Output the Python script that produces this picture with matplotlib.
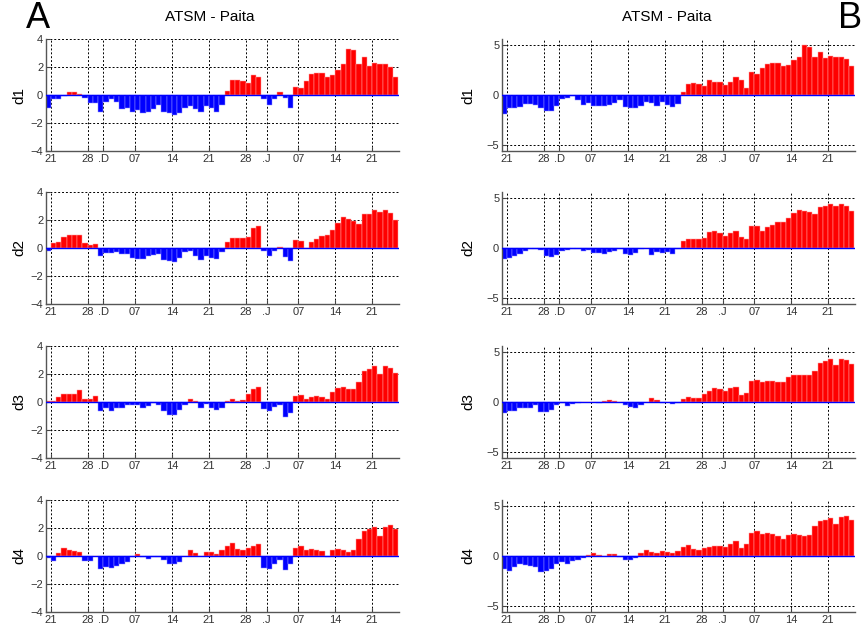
import numpy as np
import pandas as pd
import matplotlib
import matplotlib.pyplot as plt

matplotlib.use('Agg')
plt.rcParams['font.family'] = ['Liberation Sans', 'DejaVu Sans']

# daily dates, 20 Nov -> 25 Jan
dates = pd.date_range('2015-11-20', periods=67, freq='D')

tick_dates = ['2015-11-21', '2015-11-28', '2015-12-01', '2015-12-07', '2015-12-14',
              '2015-12-21', '2015-12-28', '2016-01-01', '2016-01-07', '2016-01-14',
              '2016-01-21']
tick_labels = ['21', '28', '.D', '07', '14', '21', '28', '.J', '07', '14', '21']

# panel A
a_d1 = [-0.9, -0.3, -0.3, -0.1, 0.2, 0.25, 0.1, -0.2, -0.6, -0.6,
        -1.2, -0.5, -0.3, -0.5, -1.0, -0.9, -1.2, -1.1, -1.25, -1.2,
        -1.0, -0.7, -1.2, -1.3, -1.4, -1.3, -0.9, -0.8, -1.0, -1.2,
        -0.8, -0.9, -1.2, -0.7, 0.3, 1.1, 1.1, 1.0, 0.85, 1.4,
        1.3, -0.3, -0.7, -0.3, 0.25, -0.2, -0.9, 0.6, 0.5, 1.0,
        1.5, 1.6, 1.6, 1.3, 1.4, 1.8, 2.2, 3.3, 3.2, 2.2,
        2.7, 2.1, 2.3, 2.25, 2.25, 2.0, 1.3]
a_d2 = [-0.2, 0.35, 0.4, 0.8, 0.95, 0.9, 0.9, 0.35, 0.25, 0.3,
        -0.6, -0.35, -0.35, -0.3, -0.45, -0.4, -0.7, -0.75, -0.8, -0.6,
        -0.5, -0.4, -0.85, -0.9, -1.0, -0.7, -0.3, -0.2, -0.55, -0.85,
        -0.55, -0.7, -0.8, -0.3, 0.45, 0.75, 0.7, 0.7, 0.8, 1.4,
        1.55, -0.2, -0.55, -0.2, 0.05, -0.65, -0.9, 0.55, 0.5, 0.0,
        0.45, 0.65, 0.85, 0.95, 1.3, 1.8, 2.2, 2.1, 1.9, 1.7,
        2.45, 2.45, 2.7, 2.55, 2.75, 2.5, 2.0]
a_d3 = [0.05, 0.1, 0.35, 0.6, 0.55, 0.55, 0.85, 0.25, 0.2, 0.4,
        -0.65, -0.45, -0.65, -0.45, -0.4, -0.2, -0.2, -0.2, -0.4, -0.3,
        -0.1, -0.2, -0.65, -0.9, -0.9, -0.6, -0.2, 0.2, 0.05, -0.4,
        -0.15, -0.4, -0.55, -0.4, 0.05, 0.25, 0.1, 0.15, 0.55, 0.9,
        1.1, -0.5, -0.65, -0.35, -0.2, -1.05, -0.8, 0.4, 0.5, 0.25,
        0.35, 0.4, 0.35, 0.25, 0.75, 1.0, 1.05, 0.95, 0.9, 1.4,
        2.2, 2.35, 2.55, 2.0, 2.55, 2.45, 2.1]
a_d4 = [-0.15, -0.35, 0.25, 0.55, 0.4, 0.35, 0.3, -0.35, -0.35, 0.0,
        -0.95, -0.75, -0.85, -0.7, -0.55, -0.45, -0.05, 0.15, -0.1, -0.2,
        -0.1, -0.05, -0.3, -0.55, -0.55, -0.45, 0.0, 0.4, 0.2, 0.0,
        0.3, 0.3, 0.15, 0.4, 0.75, 0.9, 0.5, 0.4, 0.6, 0.7,
        0.85, -0.85, -0.9, -0.6, -0.3, -1.0, -0.6, 0.55, 0.75, 0.45,
        0.5, 0.45, 0.35, -0.05, 0.4, 0.5, 0.4, 0.3, 0.4, 1.25,
        1.8, 1.9, 2.1, 1.4, 2.1, 2.25, 1.9]

# panel B
b_d1 = [-1.9, -1.3, -1.25, -1.2, -0.85, -0.85, -1.0, -1.3, -1.6, -1.6,
        -1.1, -0.4, -0.3, -0.1, -0.5, -0.95, -0.8, -1.1, -1.05, -1.1,
        -1.0, -0.8, -0.5, -1.2, -1.3, -1.3, -1.1, -0.7, -0.8, -1.1,
        -0.7, -0.95, -1.2, -0.9, 0.35, 1.1, 1.2, 1.1, 0.9, 1.5,
        1.35, 1.3, 1.0, 1.3, 1.8, 1.55, 0.7, 2.3, 2.1, 2.7,
        3.1, 3.2, 3.2, 2.9, 3.0, 3.5, 3.8, 5.0, 4.8, 3.8,
        4.3, 3.7, 3.9, 3.8, 3.8, 3.6, 2.9]
b_d2 = [-1.1, -1.0, -0.8, -0.6, -0.3, -0.1, -0.1, -0.15, -0.75, -0.85,
        -0.7, -0.3, -0.15, -0.1, -0.05, -0.25, -0.15, -0.5, -0.45, -0.55,
        -0.4, -0.25, -0.1, -0.6, -0.7, -0.5, -0.05, 0.0, -0.7, -0.35,
        -0.45, -0.35, -0.55, -0.05, 0.7, 0.95, 0.95, 0.9, 1.05, 1.6,
        1.7, 1.55, 1.2, 1.5, 1.75, 1.1, 0.9, 2.25, 2.2, 1.7,
        2.1, 2.3, 2.6, 2.65, 3.0, 3.55, 3.85, 3.75, 3.6, 3.4,
        4.1, 4.2, 4.45, 4.2, 4.45, 4.2, 3.7]
b_d3 = [-1.1, -0.9, -0.85, -0.6, -0.55, -0.6, -0.3, -0.95, -1.0, -0.75,
        -0.3, -0.1, -0.35, -0.2, -0.1, 0.05, 0.05, 0.05, -0.05, 0.1,
        0.2, 0.1, 0.0, -0.3, -0.5, -0.6, -0.3, 0.05, 0.45, 0.2,
        -0.05, 0.05, -0.15, -0.05, 0.35, 0.5, 0.45, 0.45, 0.85, 1.15,
        1.4, 1.3, 1.15, 1.4, 1.55, 0.75, 0.95, 2.15, 2.2, 2.0,
        2.15, 2.15, 2.05, 2.0, 2.5, 2.75, 2.75, 2.75, 2.7, 3.15,
        3.9, 4.1, 4.35, 3.75, 4.35, 4.2, 3.85]
b_d4 = [-1.3, -1.5, -1.05, -0.75, -0.9, -0.95, -1.05, -1.55, -1.5, -1.3,
        -0.75, -0.6, -0.75, -0.5, -0.35, -0.2, 0.15, 0.35, 0.1, 0.05,
        0.2, 0.25, -0.1, -0.4, -0.35, -0.15, 0.3, 0.6, 0.45, 0.3,
        0.5, 0.45, 0.35, 0.5, 0.95, 1.1, 0.75, 0.6, 0.85, 0.9,
        1.0, 1.05, 0.95, 1.25, 1.55, 0.85, 1.2, 2.35, 2.55, 2.2,
        2.3, 2.2, 2.05, 1.75, 2.15, 2.2, 2.1, 2.05, 2.1, 3.0,
        3.55, 3.65, 3.8, 3.25, 3.9, 4.0, 3.65]

panel_a = [a_d1, a_d2, a_d3, a_d4]
panel_b = [b_d1, b_d2, b_d3, b_d4]
row_names = ['d1', 'd2', 'd3', 'd4']

fig = plt.figure(figsize=(8.65, 6.26), dpi=100)

x = np.arange(len(dates))           # bar i covers one day
t0 = dates[0]
tick_pos = [(pd.Timestamp(t) - t0).days for t in tick_dates]

col_left = [46 / 865, 502 / 865]
ax_w = 353 / 865
ax_h = 112 / 626
bottoms_px = [151, 304, 458, 612]


def draw_panel(ax, vals, lim, yticks, name, pad):
    vals = np.array(vals)
    cols = np.where(vals >= 0, 'red', 'blue')
    edges = np.where(vals >= 0, '#ffa0a0', '#9090ff')
    ax.bar(x, vals, width=1.0, align='edge', color=cols, edgecolor=edges,
           linewidth=0.35, zorder=2)
    ax.axhline(0, color='blue', lw=1.0, zorder=3)
    ax.set_ylim(-lim, lim)
    ax.set_xlim(0.1, 67.1)
    ax.set_yticks(yticks)
    ax.set_xticks(tick_pos)
    ax.set_xticklabels(tick_labels)
    ax.grid(True, color='black', linestyle=(0, (2, 2)), linewidth=0.7, zorder=1)
    ax.set_axisbelow(True)
    for s in ['top', 'right']:
        ax.spines[s].set_visible(False)
    for s in ['left', 'bottom']:
        ax.spines[s].set_color('#555555')
        ax.spines[s].set_linewidth(1.0)
    ax.tick_params(direction='in', length=3, labelsize=8, colors='#444444',
                   labelcolor='#333333', pad=2)
    ax.set_ylabel(name, fontsize=11, labelpad=pad)


for r in range(4):
    b = 1 - bottoms_px[r] / 626
    axa = fig.add_axes([col_left[0], b, ax_w, ax_h])
    draw_panel(axa, panel_a[r], 4, [-4, -2, 0, 2, 4], row_names[r], 3)
    axb = fig.add_axes([col_left[1], b, ax_w, ax_h])
    draw_panel(axb, panel_b[r], 5.6, [-5, 0, 5], row_names[r], 8)

fig.text(210 / 865, 1 - 17 / 626, 'ATSM - Paita', ha='center', va='center', fontsize=11)
fig.text(667 / 865, 1 - 17 / 626, 'ATSM - Paita', ha='center', va='center', fontsize=11)
fig.text(26 / 865, 1 - 18 / 626, 'A', ha='left', va='center', fontsize=26)
fig.text(838 / 865, 1 - 18 / 626, 'B', ha='left', va='center', fontsize=26)

fig.savefig('out.png', dpi=100)
plt.close(fig)
